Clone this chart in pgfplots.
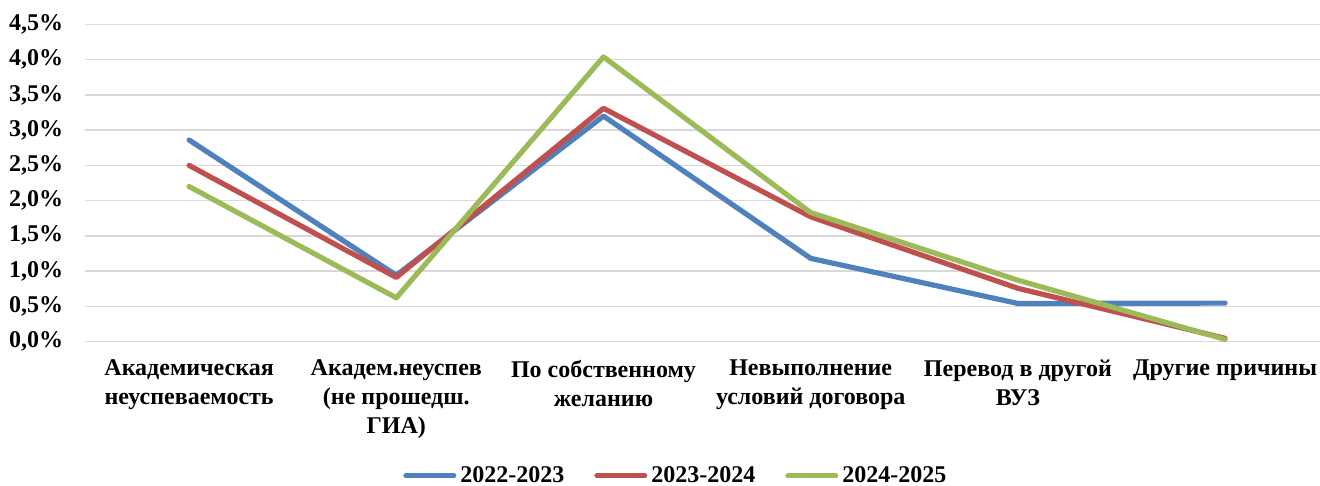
\documentclass[border=0pt]{standalone}
\usepackage{fontspec}
\setmainfont{Liberation Serif}
\usepackage{pgfplots}
\pgfplotsset{compat=1.18}
\definecolor{sBlue}{HTML}{4F81BD}
\definecolor{sRed}{HTML}{C0504D}
\definecolor{sGreen}{HTML}{9BBB59}
\definecolor{gridc}{HTML}{D9D9D9}
\begin{document}
\begin{tikzpicture}
\useasboundingbox (-42.75pt,-72.25pt) rectangle (617.25pt,170.75pt);
\begin{axis}[
  scale only axis,
  width=617.25pt, height=158.5pt,
  xmin=-0.5, xmax=5.458,
  ymin=0, ymax=4.5,
  clip=false,
  axis line style={draw=none},
  major tick length=0pt,
  ymajorgrids,
  major grid style={draw=gridc, line width=0.7pt},
  ytick={0,0.5,1,1.5,2,2.5,3,3.5,4,4.5},
  yticklabels={{0,0\%},{0,5\%},{1,0\%},{1,5\%},{2,0\%},{2,5\%},{3,0\%},{3,5\%},{4,0\%},{4,5\%}},
  xtick={0,1,2,3,4,5},
  xticklabels={{Академическая\\неуспеваемость},{Академ.неуспев\\(не прошедш.\\ГИА)},{По собственному\\желанию},{Невыполнение\\условий договора},{Перевод в другой\\ВУЗ},{Другие причины}},
  yticklabel style={font=\fontsize{12}{14.5}\selectfont\bfseries, inner sep=0pt, xshift=-11pt},
  xticklabel style={font=\fontsize{12}{14.5}\selectfont\bfseries, align=center, inner sep=0pt, yshift=-9pt},
  legend columns=3,
  legend style={draw=none, at={(0.479,-0.424)}, anchor=center, font=\fontsize{12}{14}\selectfont\bfseries,
    /tikz/every even column/.append style={column sep=13pt}, inner sep=0pt},
  legend image code/.code={\draw[#1, line width=2.5pt, line cap=round] (0pt,0pt) -- (24pt,0pt);},
  every axis plot/.append style={line width=2.6pt, line join=round, line cap=round},
]
\addplot[sBlue] coordinates {(0,2.86) (1,0.94) (2,3.20) (3,1.18) (4,0.54) (5,0.545)};
\addplot[sRed] coordinates {(0,2.50) (1,0.91) (2,3.31) (3,1.77) (4,0.755) (5,0.045)};
\addplot[sGreen] coordinates {(0,2.20) (1,0.62) (2,4.04) (3,1.83) (4,0.87) (5,0.03)};
\legend{2022-2023,2023-2024,2024-2025}
\end{axis}
\end{tikzpicture}
\end{document}
